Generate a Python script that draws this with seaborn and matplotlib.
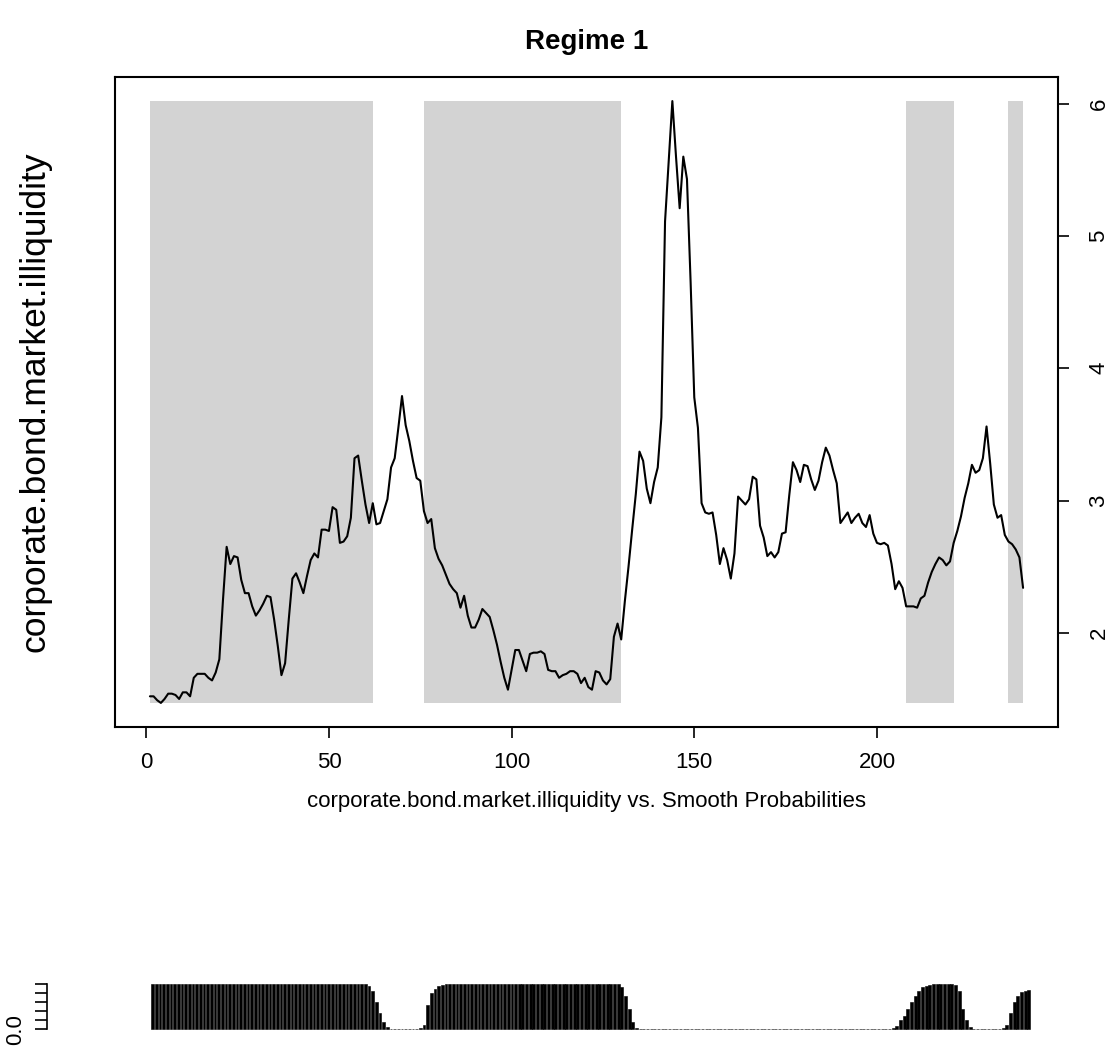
import numpy as np
import pandas as pd
import matplotlib
matplotlib.use("Agg")
import matplotlib.pyplot as plt
import seaborn as sns

sns.set_style("ticks")
plt.rcParams['font.family'] = ['Liberation Sans', 'DejaVu Sans']
plt.rcParams['text.color'] = 'black'
plt.rcParams['axes.labelcolor'] = 'black'
plt.rcParams['xtick.color'] = 'black'
plt.rcParams['ytick.color'] = 'black'

# ---- data ----
illiquidity = [
    1.52, 1.52, 1.49, 1.47, 1.50, 1.54, 1.54, 1.53, 1.50, 1.55,
    1.55, 1.52, 1.66, 1.69, 1.69, 1.69, 1.66, 1.64, 1.70, 1.80,
    2.25, 2.65, 2.52, 2.58, 2.57, 2.40, 2.30, 2.30, 2.20, 2.13,
    2.17, 2.22, 2.28, 2.27, 2.10, 1.90, 1.68, 1.77, 2.10, 2.41,
    2.45, 2.38, 2.30, 2.43, 2.55, 2.60, 2.57, 2.78, 2.78, 2.77,
    2.95, 2.93, 2.68, 2.69, 2.73, 2.87, 3.32, 3.34, 3.15, 2.97,
    2.83, 2.98, 2.82, 2.83, 2.92, 3.01, 3.25, 3.32, 3.55, 3.79,
    3.57, 3.45, 3.30, 3.17, 3.15, 2.92, 2.83, 2.86, 2.64, 2.56,
    2.51, 2.44, 2.37, 2.33, 2.30, 2.19, 2.28, 2.13, 2.04, 2.04,
    2.10, 2.18, 2.15, 2.12, 2.02, 1.91, 1.78, 1.66, 1.57, 1.72,
    1.87, 1.87, 1.79, 1.71, 1.84, 1.85, 1.85, 1.86, 1.84, 1.72,
    1.71, 1.71, 1.66, 1.68, 1.69, 1.71, 1.71, 1.69, 1.62, 1.66,
    1.59, 1.57, 1.71, 1.70, 1.64, 1.61, 1.65, 1.97, 2.07, 1.95,
    2.24, 2.50, 2.78, 3.05, 3.37, 3.30, 3.09, 2.98, 3.14, 3.25,
    3.63, 5.11, 5.57, 6.02, 5.60, 5.21, 5.60, 5.43, 4.65, 3.78,
    3.55, 2.98, 2.91, 2.90, 2.91, 2.74, 2.52, 2.64, 2.55, 2.41,
    2.60, 3.03, 3.00, 2.97, 3.01, 3.18, 3.16, 2.81, 2.72, 2.58,
    2.61, 2.57, 2.61, 2.75, 2.76, 3.04, 3.29, 3.23, 3.14, 3.27,
    3.26, 3.16, 3.08, 3.15, 3.29, 3.40, 3.34, 3.23, 3.13, 2.83,
    2.87, 2.91, 2.83, 2.87, 2.90, 2.83, 2.80, 2.89, 2.75, 2.68,
    2.67, 2.68, 2.66, 2.52, 2.33, 2.39, 2.34, 2.20, 2.20, 2.20,
    2.19, 2.26, 2.28, 2.38, 2.46, 2.52, 2.57, 2.55, 2.51, 2.54,
    2.68, 2.77, 2.88, 3.02, 3.13, 3.27, 3.21, 3.23, 3.32, 3.56,
    3.28, 2.97, 2.87, 2.89, 2.74, 2.69, 2.67, 2.63, 2.57, 2.34,
]

smooth_prob = (
    [1.0] * 59 +
    [0.97, 0.85, 0.60, 0.35, 0.15, 0.05, 0.01] +
    [0.0] * 7 +
    [0.02, 0.10, 0.55, 0.80, 0.90, 0.96, 0.98] +
    [1.0] * 48 +
    [0.95, 0.75, 0.45, 0.15, 0.03] +
    [0.0] * 69 +
    [0.02, 0.08, 0.20, 0.30, 0.45, 0.60, 0.75, 0.85, 0.93, 0.97, 0.99] +
    [1.0] * 6 +
    [0.98, 0.85, 0.45, 0.20, 0.05, 0.01] +
    [0.0] * 7 +
    [0.02, 0.10, 0.35, 0.60, 0.75, 0.82, 0.86, 0.87]
)

time_index = list(range(1, len(illiquidity) + 1))
x_ticks = [0, 50, 100, 150, 200]
y_ticks = [2, 3, 4, 5, 6]
prob_ticks = [0.0, 0.2, 0.4, 0.6, 0.8, 1.0]
prob_tick_labels = ["0.0", "", "", "", "", ""]

title = "Regime 1"
series_name = "corporate.bond.market.illiquidity"
x_title = "corporate.bond.market.illiquidity vs. Smooth Probabilities"

df = pd.DataFrame({"t": time_index, "y": illiquidity, "p": smooth_prob})

W, H = 1119, 1047
fig = plt.figure(figsize=(W / 100, H / 100), dpi=100)

# ---- top panel ----
L, R, T, B = 115, 1058, 77, 727
ax = fig.add_axes([L / W, 1 - B / H, (R - L) / W, (B - T) / H])
ymin, ymax = df["y"].min(), df["y"].max()
ax.fill_between(df["t"], ymin, ymax, where=df["p"] > 0.5, color="#d3d3d3",
                lw=0, zorder=0, interpolate=False)
sns.lineplot(data=df, x="t", y="y", ax=ax, color="black", lw=1.5, zorder=3)

n = len(df)
xr = n - 1
ax.set_xlim(1 - 0.04 * xr, n + 0.04 * xr)
yr = ymax - ymin
ax.set_ylim(ymin - 0.04 * yr, ymax + 0.04 * yr)

ax.set_xticks(x_ticks)
ax.set_xticklabels([str(v) for v in x_ticks], fontsize=16)
ax.yaxis.tick_right()
ax.set_yticks(y_ticks)
ax.set_yticklabels([str(v) for v in y_ticks], fontsize=16, rotation=90, va="center")
ax.tick_params(axis="both", direction="out", length=8, width=1.2, color="black",
               labelcolor="black", pad=10)
ax.tick_params(axis="y", pad=14)
for s in ax.spines.values():
    s.set_visible(True)
    s.set_linewidth(1.5)
    s.set_color("black")
ax.set_xlabel("")
ax.set_ylabel("")

cx = (L + R) / 2 / W
fig.text(cx, 1 - 42 / H, title, ha="center", va="center", fontsize=20,
         fontweight="bold", color="black")
fig.text(35 / W, 1 - ((T + B) / 2) / H, series_name, rotation=90, ha="center",
         va="center", fontsize=25.5, color="black")
fig.text(cx, 1 - 801 / H, x_title, ha="center", va="center", fontsize=16, color="black")

# ---- bottom panel ----
bL, bBot, bTop = 47, 1031, 982.5
ax2 = fig.add_axes([bL / W, 1 - bBot / H, (W - bL) / W, (bBot - bTop) / H])
sns.barplot(data=df, x="t", y="p", native_scale=True, color="black", width=0.75,
            errorbar=None, ax=ax2, edgecolor="black", linewidth=0.4, saturation=1)
ax2.set_ylim(-0.04, 1.04)
ax2.set_xlim(-27.8, 264.6)
ax2.set_xticks([])
ax2.set_yticks(prob_ticks)
ax2.set_yticklabels(prob_tick_labels, fontsize=16, rotation=90, va="center")
ax2.tick_params(axis="y", direction="out", length=9, width=1.2, color="black",
                labelcolor="black", pad=6)
for k in ["top", "right", "bottom"]:
    ax2.spines[k].set_visible(False)
ax2.spines["left"].set_bounds(0, 1)
ax2.spines["left"].set_linewidth(1.2)
ax2.spines["left"].set_color("black")
ax2.set_xlabel("")
ax2.set_ylabel("")
ax2.patch.set_alpha(0)

fig.savefig("out.png", dpi=100)
